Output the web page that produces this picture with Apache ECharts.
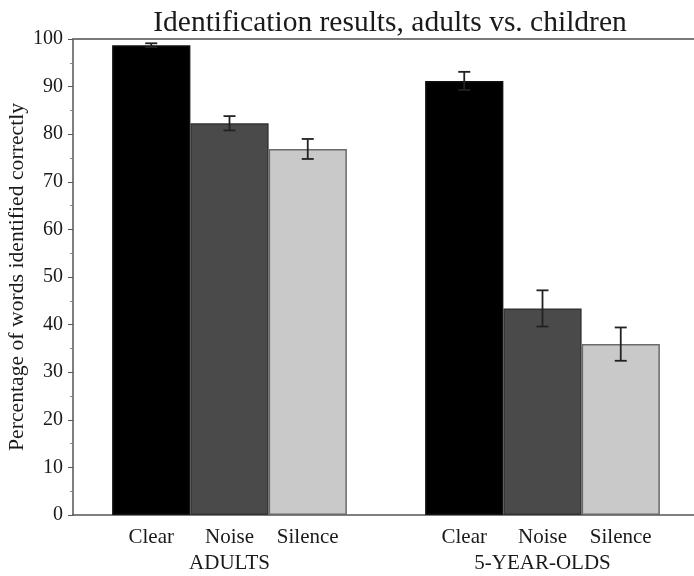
<!DOCTYPE html>
<html>
<head>
<meta charset="utf-8">
<title>Identification results</title>
<script src="https://cdn.jsdelivr.net/npm/echarts@6/dist/echarts.min.js"></script>
<style>
  html, body { margin: 0; padding: 0; background: #fff; }
  #chart { width: 694px; height: 576px; }
</style>
</head>
<body>
<div id="chart"></div>
<script>
// slots along x: blank, adults x3, blank, children x3, blank
var slotLabels = ['', 'Clear', 'Noise', 'Silence', '', 'Clear', 'Noise', 'Silence', ''];
var groupLabels = {2: 'ADULTS', 6: '5-YEAR-OLDS'};

var conditions = ['Clear', 'Noise', 'Silence'];
var adultMeans = [98.7, 82.3, 76.9];
var adultErr = [0.4, 1.5, 2.1];
var childMeans = [91.2, 43.4, 35.9];
var childErr = [1.9, 3.8, 3.5];

var barColors = ['#000000', '#4a4a4a', '#c9c9c9'];
var borderColors = ['#111111', '#333333', '#6a6a6a'];

var yMin = 0, yMax = 100, yStep = 10;

var FONT = '"Liberation Serif", "DejaVu Serif", serif';

// build bar items and error bar items
var barData = [];
var errData = [];
slotLabels.forEach(function (lab, i) {
    var ci = conditions.indexOf(lab);
    if (ci < 0) {
        barData.push('-');
        return;
    }
    var isChild = i > 4;
    var m = isChild ? childMeans[ci] : adultMeans[ci];
    var e = isChild ? childErr[ci] : adultErr[ci];
    barData.push({
        value: m,
        itemStyle: {color: barColors[ci], borderColor: borderColors[ci], borderWidth: 1.5}
    });
    errData.push([i, m - e, m + e]);
});

var chart = echarts.init(document.getElementById('chart'), null, {renderer: 'canvas'});

var option = {
    animation: false,
    backgroundColor: '#ffffff',
    title: {
        text: 'Identification results, adults vs. children',
        left: 385,
        textAlign: 'center',
        top: 3,
        textStyle: {fontFamily: FONT, fontSize: 29.5, fontWeight: 'normal', color: '#1a1a1a'}
    },
    // plot runs a few px past the right edge, like the original
    grid: {left: 73, right: -5, top: 39, bottom: 61, containLabel: false, outerBoundsMode: 'none'},
    xAxis: [{
        type: 'category',
        data: slotLabels,
        boundaryGap: false,
        axisLine: {show: true, lineStyle: {color: '#555', width: 1.5}},
        axisTick: {show: false},
        splitLine: {show: false},
        axisLabel: {
            interval: 0,
            margin: 9,
            fontFamily: FONT,
            fontSize: 21,
            lineHeight: 26,
            color: '#1a1a1a',
            formatter: function (v, idx) {
                return groupLabels[idx] ? v + '\n' + groupLabels[idx] : v;
            }
        }
    }, {
        type: 'value',
        position: 'top',
        axisLine: {show: true, onZero: false, lineStyle: {color: '#7a7a7a', width: 2}},
        axisTick: {show: false},
        axisLabel: {show: false},
        splitLine: {show: false}
    }],
    yAxis: {
        type: 'value',
        min: yMin,
        max: yMax,
        interval: yStep,
        name: 'Percentage of words identified correctly',
        nameLocation: 'middle',
        nameGap: 45,
        nameMoveOverlap: false,
        nameTextStyle: {fontFamily: FONT, fontSize: 21.7, color: '#1a1a1a'},
        axisLine: {show: true, lineStyle: {color: '#555', width: 1.5}},
        axisTick: {show: true, length: 5, lineStyle: {color: '#555'}},
        minorTick: {show: true, splitNumber: 2, length: 3, lineStyle: {color: '#888'}},
        splitLine: {show: false},
        axisLabel: {fontFamily: FONT, fontSize: 20, color: '#1a1a1a', margin: 10}
    },
    series: [{
        type: 'bar',
        data: barData,
        barWidth: '100%',
        barGap: '0%',
        barCategoryGap: '0%'
    }, {
        type: 'custom',
        data: errData,
        z: 5,
        renderItem: function (params, api) {
            var x = api.value(0);
            var lo = api.coord([x, api.value(1)]);
            var hi = api.coord([x, api.value(2)]);
            var half = 6;
            var style = {stroke: '#222', lineWidth: 1.8};
            return {
                type: 'group',
                children: [
                    {type: 'line', shape: {x1: lo[0], y1: lo[1], x2: hi[0], y2: hi[1]}, style: style},
                    {type: 'line', shape: {x1: lo[0] - half, y1: lo[1], x2: lo[0] + half, y2: lo[1]}, style: style},
                    {type: 'line', shape: {x1: hi[0] - half, y1: hi[1], x2: hi[0] + half, y2: hi[1]}, style: style}
                ]
            };
        }
    }]
};

chart.setOption(option);
</script>
</body>
</html>
